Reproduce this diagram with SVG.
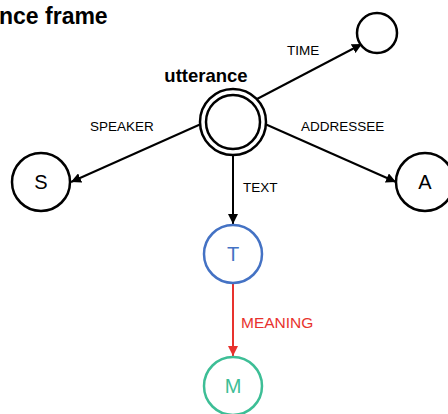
<svg xmlns="http://www.w3.org/2000/svg" width="448" height="414" viewBox="0 0 448 414">
<style>
.node{fill:#fff;stroke:#000;stroke-width:2.5}
.lbl{font-family:"Liberation Sans",Arial,sans-serif;font-size:13.5px;fill:#000}
.nl{font-family:"Liberation Sans",Arial,sans-serif;font-size:20px;text-anchor:middle}
.edge{stroke:#000;stroke-width:2;fill:none}
</style>
<defs>
<marker id="ah" viewBox="0 0 10 10" refX="10" refY="5" markerWidth="5" markerHeight="5" orient="auto" markerUnits="strokeWidth"><path d="M0,0L10,5L0,10z" fill="#000"/></marker>
<marker id="ahr" viewBox="0 0 10 10" refX="10" refY="5" markerWidth="5" markerHeight="5" orient="auto" markerUnits="strokeWidth"><path d="M0,0L10,5L0,10z" fill="#E8322E"/></marker>
</defs>
<text x="-1" y="24" font-family="'Liberation Sans',Arial,sans-serif" font-size="23" font-weight="bold">nce frame</text>
<g id="connectors">
<line class="edge" x1="257" y1="99" x2="362" y2="44" marker-end="url(#ah)"/>
<line class="edge" x1="201" y1="124" x2="71" y2="182" marker-end="url(#ah)"/>
<line class="edge" x1="265" y1="124" x2="396" y2="182" marker-end="url(#ah)"/>
<line class="edge" x1="233" y1="155" x2="233" y2="224" marker-end="url(#ah)"/>
<line x1="233" y1="284" x2="233" y2="356" stroke="#E8322E" stroke-width="2" marker-end="url(#ahr)"/>
<text class="lbl" x="287" y="55">TIME</text>
<text class="lbl" x="90" y="131">SPEAKER</text>
<text class="lbl" x="301" y="131">ADDRESSEE</text>
<text class="lbl" x="243" y="192">TEXT</text>
<text class="lbl" x="241" y="328" style="fill:#E8322E;font-size:15.5px">MEANING</text>
</g>
<g id="utterance">
<circle class="node" cx="233" cy="122" r="33"/>
<circle class="node" cx="233" cy="122" r="27"/>
<text x="206" y="82" font-family="'Liberation Sans',Arial,sans-serif" font-size="18.5" font-weight="bold" text-anchor="middle">utterance</text>
</g>
<g id="time"><circle class="node" cx="377" cy="33" r="20"/></g>
<g id="speaker"><circle class="node" cx="41" cy="182" r="29"/><text class="nl" x="41" y="189">S</text></g>
<g id="addressee"><circle class="node" cx="425" cy="182" r="29"/><text class="nl" x="425" y="189">A</text></g>
<g id="text"><circle class="node" cx="233" cy="254" r="29" style="stroke:#4472C4"/><text class="nl" x="233" y="261" fill="#4472C4">T</text></g>
<g id="meaning"><circle class="node" cx="233" cy="386" r="29" style="stroke:#3DBE96"/><text class="nl" x="233" y="393" fill="#3DBE96">M</text></g>
</svg>
